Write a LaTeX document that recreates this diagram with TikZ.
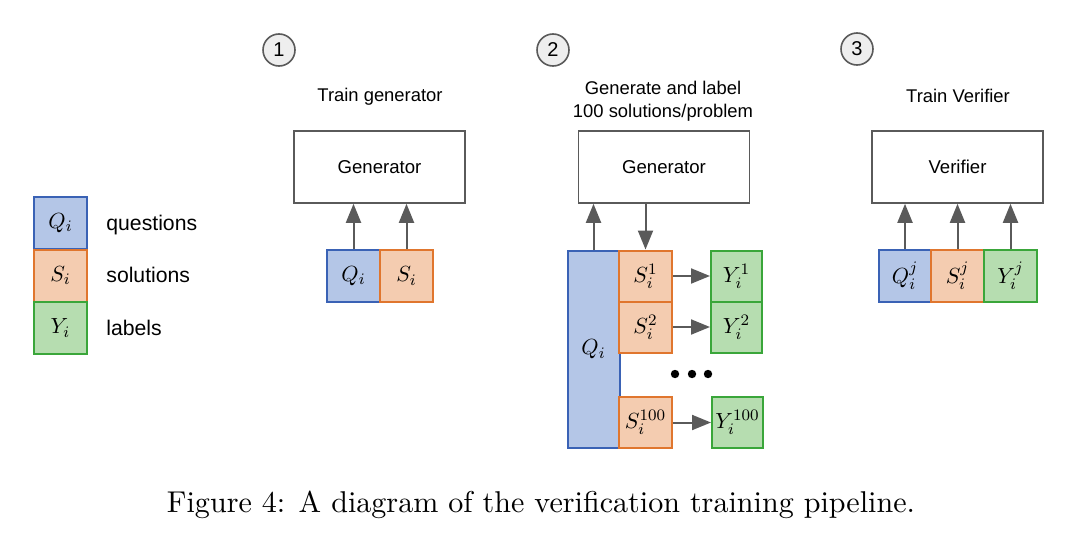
\documentclass[tikz,border=0pt]{standalone}
\usepackage{fontspec}
\newfontfamily\arial{Liberation Sans}
\usetikzlibrary{arrows.meta}
\definecolor{qfill}{HTML}{B4C6E7}
\definecolor{qdraw}{HTML}{3A62B5}
\definecolor{sfill}{HTML}{F4CCB0}
\definecolor{sdraw}{HTML}{E0762E}
\definecolor{yfill}{HTML}{B6DDB0}
\definecolor{ydraw}{HTML}{3AA63A}
\definecolor{agray}{HTML}{5A5A5A}
\definecolor{cfill}{HTML}{EEEEEE}
\begin{document}
\begin{tikzpicture}[x=0.5pt,y=-0.5pt,
  cell/.style={line width=1pt,minimum width=26.5pt,minimum height=26pt,inner sep=0pt,font=\fontsize{11}{13}\selectfont},
  qcell/.style={cell,fill=qfill,draw=qdraw},
  scell/.style={cell,fill=sfill,draw=sdraw},
  ycell/.style={cell,fill=yfill,draw=ydraw},
  model/.style={draw=agray,line width=0.8pt,fill=white,minimum width=85.5pt,minimum height=36pt,inner sep=0pt,font=\arial\fontsize{9.3}{11}\selectfont},
  title/.style={font=\arial\fontsize{9.2}{11.5}\selectfont,align=center,inner sep=0pt},
  stepnum/.style={circle,draw=agray,fill=cfill,line width=0.8pt,minimum size=16pt,inner sep=0pt,font=\arial\fontsize{10}{12}\selectfont},
  legtext/.style={anchor=west,inner sep=0pt,font=\arial\fontsize{10.6}{12}\selectfont,text height=1.5ex,text depth=0.25ex},
  arr/.style={draw=agray,line width=1pt,-{Triangle[length=9.5pt,width=7.5pt]}}]
\useasboundingbox (0,0) rectangle (1080,546);

% legend
\node[qcell] (lq) at (60.5,223) {$Q_i$};
\node[scell] (ls) at (60.5,275.5) {$S_i$};
\node[ycell] (ly) at (60.5,328) {$Y_i$};
\node[legtext] (lqt) at (106,225) {questions};
\node[legtext] (lst) at (106,277.5) {solutions};
\node[legtext] (lyt) at (106,330) {labels};

% step 1
\node[stepnum] (c1) at (279,50) {1};
\node[title] (t1) at (380,97) {Train generator};
\node[model] (g1) at (379.5,167) {Generator};
\node[qcell] (q1) at (353.5,276) {$Q_i$};
\node[scell] (s1) at (406.5,276) {$S_i$};
\draw[arr] (q1.north) -- (q1.north |- g1.south);
\draw[arr] (s1.north) -- (s1.north |- g1.south);

% step 2
\node[stepnum] (c2) at (553,50) {2};
\node[title] (t2) at (663,101) {Generate and label\\100 solutions/problem};
\node[model] (g2) at (664,167) {Generator};
\node[qcell,minimum width=26pt,minimum height=98.5pt] (q2) at (593.5,349.5) {$Q_i$};
\node[scell,minimum height=25.5pt] (s21) at (645.5,276) {$S_i^1$};
\node[scell,minimum height=25.5pt] (s22) at (645.5,327) {$S_i^2$};
\node[scell,minimum height=25.5pt] (s23) at (645.5,422.5) {$S_i^{100}$};
\node[ycell,minimum width=25.5pt,minimum height=25.5pt] (y21) at (736.5,276) {$Y_i^1$};
\node[ycell,minimum width=25.5pt,minimum height=25.5pt] (y22) at (736.5,327) {$Y_i^2$};
\node[ycell,minimum width=25.5pt,minimum height=25.5pt] (y23) at (737.5,422.5) {$Y_i^{100}$};
\draw[arr] (q2.north) -- (q2.north |- g2.south);
\draw[arr] (g2.south -| s21.north) -- (s21.north);
\draw[arr] (s21.east) -- (y21.west);
\draw[arr] (s22.east) -- (y22.west);
\draw[arr] (s23.east) -- (y23.west);
\fill (675,374) circle (2.1pt) (692,374) circle (2.1pt) (708,374) circle (2.1pt);

% step 3
\node[stepnum] (c3) at (857,49) {3};
\node[title] (t3) at (958,96) {Train Verifier};
\node[model] (v3) at (957.5,167) {Verifier};
\node[qcell] (q3) at (905,276) {$Q_i^j$};
\node[scell] (s3) at (957.5,276) {$S_i^j$};
\node[ycell] (y3) at (1010.5,276) {$Y_i^j$};
\draw[arr] (q3.north) -- (q3.north |- v3.south);
\draw[arr] (s3.north) -- (s3.north |- v3.south);
\draw[arr] (y3.north) -- (y3.north |- v3.south);

% caption
\node[inner sep=0pt] (cap) at (541,505) {\resizebox{374pt}{!}{Figure 4: A diagram of the verification training pipeline.}};
\end{tikzpicture}
\end{document}
